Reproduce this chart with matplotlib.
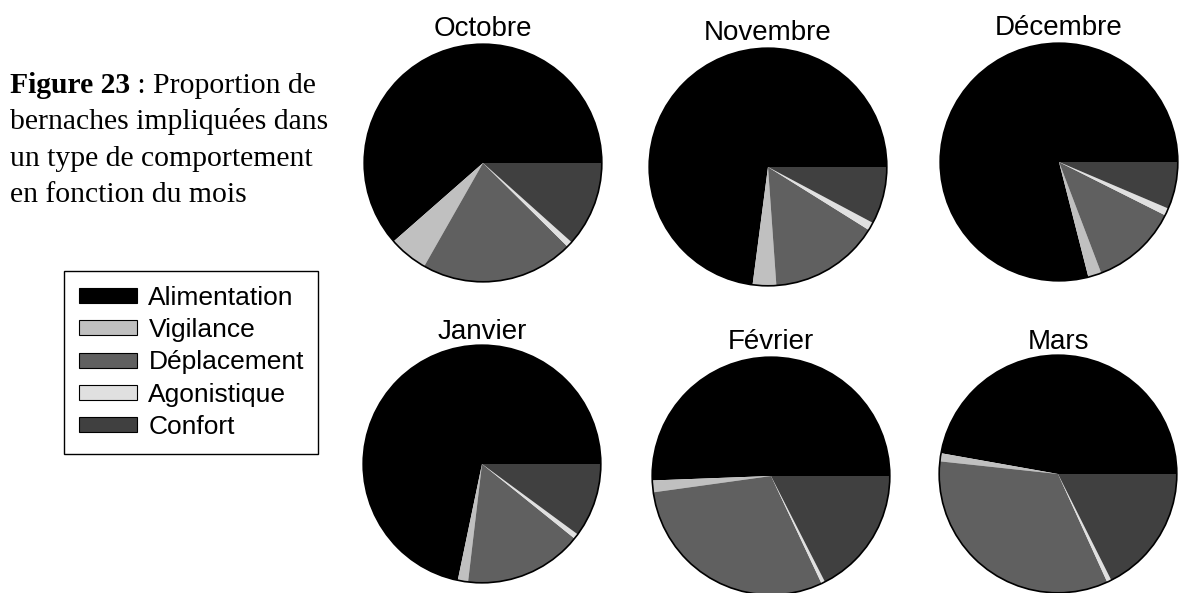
import matplotlib
matplotlib.use('Agg')
import matplotlib.pyplot as plt
from matplotlib.patches import Patch, Circle

mois = ['Octobre', 'Novembre', 'Décembre', 'Janvier', 'Février', 'Mars']
comportements = ['Alimentation', 'Vigilance', 'Déplacement', 'Agonistique', 'Confort']
alimentation = [61.4, 73.0, 78.9, 71.8, 50.6, 47.2]
vigilance = [5.3, 3.2, 1.8, 1.4, 1.6, 1.1]
deplacement = [20.8, 15.0, 11.8, 16.1, 29.8, 33.5]
agonistique = [0.8, 1.1, 1.0, 0.7, 0.5, 0.6]
confort = [11.6, 7.8, 6.4, 10.1, 17.5, 17.6]

couleurs = ['#000000', '#c0c0c0', '#606060', '#e0e0e0', '#404040']

W, H = 1181, 593
fig = plt.figure(figsize=(W / 100, H / 100), dpi=100)
sans = ['Liberation Sans', 'DejaVu Sans']
serif = ['Liberation Serif', 'DejaVu Serif']

# centres des camemberts (px), rayon, décalage du titre
centres = [(483, 163), (768, 167), (1059, 162), (482, 464), (771, 476), (1058, 474)]
r = 120
ecart_titre = [8, 8, 8, 6, 8, 6]

for i, m in enumerate(mois):
    cx, cy = centres[i]
    ax = fig.add_axes([(cx - r) / W, 1 - (cy + r) / H, 2 * r / W, 2 * r / H])
    vals = [alimentation[i], vigilance[i], deplacement[i], agonistique[i], confort[i]]
    ax.pie(vals, colors=couleurs, startangle=0, counterclock=True,
           wedgeprops=dict(linewidth=0))
    ax.add_patch(Circle((0, 0), 1, fill=False, edgecolor='black', lw=1.2))
    ax.set_xlim(-1.01, 1.01)
    ax.set_ylim(-1.01, 1.01)
    ax.set_aspect('equal')
    ax.axis('off')
    ax.text(0, 1 + ecart_titre[i] / r, m, ha='center', va='baseline',
            fontsize=20, family=sans, clip_on=False)

handles = [Patch(facecolor=c, edgecolor='black', lw=0.8) for c in couleurs]
leg = fig.legend(handles, comportements, loc='upper left',
                 bbox_to_anchor=(64 / W, 1 - 271 / H), borderaxespad=0,
                 prop=dict(family=sans, size=19), frameon=True, fancybox=False,
                 edgecolor='black', framealpha=1, handlelength=2.2,
                 handleheight=0.5, handletextpad=0.45, labelspacing=0.32,
                 borderpad=0.55)
leg.get_frame().set_linewidth(1.0)

# légende de la figure
lignes = [' : Proportion de', 'bernaches impliquées dans',
          'un type de comportement', 'en fonction du mois']
bases = [93, 129, 166, 202]
x0 = 10 / W
t = fig.text(x0, 1 - bases[0] / H, 'Figure 23', fontsize=21.3, family=serif,
             fontweight='bold', va='baseline')
rend = fig.canvas.get_renderer()
bb = t.get_window_extent(rend)
fig.text(bb.x1 / W, 1 - bases[0] / H, lignes[0], fontsize=21.3, family=serif,
         va='baseline')
for txt, b in zip(lignes[1:], bases[1:]):
    fig.text(x0, 1 - b / H, txt, fontsize=21.3, family=serif, va='baseline')

fig.savefig('out.png', dpi=100)
